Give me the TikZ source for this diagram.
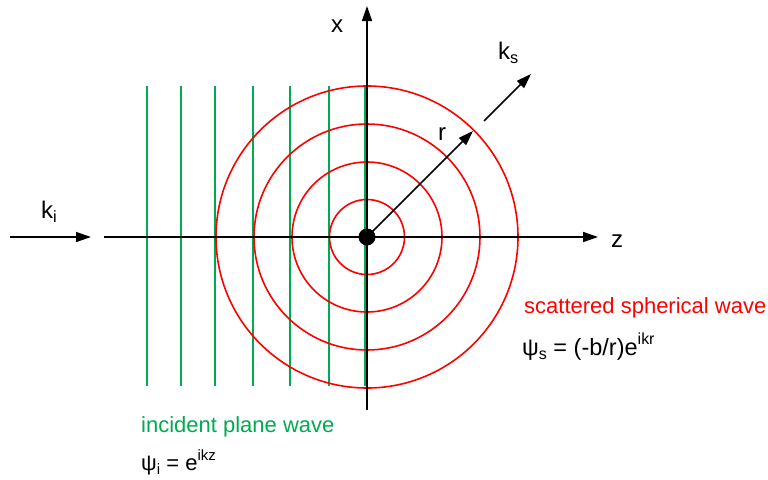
\documentclass[tikz,border=0pt]{standalone}
\usepackage{fontspec}
\setmainfont{Liberation Sans}
\usetikzlibrary{arrows.meta}
\newcommand\lsub[1]{\raisebox{-0.2em}{\scalebox{0.68}{#1}}}
\newcommand\lsup[1]{\raisebox{0.45em}{\scalebox{0.68}{#1}}}
\definecolor{wgreen}{RGB}{0,170,80}
\begin{document}
\begin{tikzpicture}[x=1pt,y=-1pt,
  axis/.style={line width=1.5pt, -{Triangle[length=15pt,width=10pt]}},
  lbl/.style={font=\fontsize{22}{26}\selectfont, inner sep=0pt},
  biglbl/.style={font=\fontsize{24}{28}\selectfont, inner sep=0pt},
  wave/.style={red, line width=1.6pt},
  plane/.style={wgreen, line width=1.8pt}]
\useasboundingbox (0,0) rectangle (768,479);
\coordinate (O) at (367,237);
% incident plane wave fronts
\foreach \gx/\n in {147/1,181/2,215/3,253/4,290/5,329/6,365/7}{
  \coordinate (g\n t) at (\gx,86);
  \coordinate (g\n b) at (\gx,386);
  \draw[plane] (g\n t) -- (g\n b);
}
% scattered spherical wave fronts
\foreach \r in {37.5,75,113,151}{
  \draw[wave] (O) circle[radius=\r pt];
}
% axes
\coordinate (xbot) at (367,410);
\coordinate (xtop) at (367,6);
\draw[axis] (xbot) -- (xtop);
\coordinate (zleft) at (104,237);
\coordinate (zright) at (598,237);
\draw[axis] (zleft) -- (zright);
% incident wave vector
\coordinate (kia) at (10,237);
\coordinate (kib) at (91,237);
\draw[axis] (kia) -- (kib);
% r vector
\coordinate (rtip) at (473,131);
\draw[axis] (O) -- (rtip);
% scattered wave vector
\coordinate (ksa) at (484,121);
\coordinate (ksb) at (531,74);
\draw[axis] (ksa) -- (ksb);
% scatterer
\node[circle, fill=black, minimum size=17pt, inner sep=0pt] (dot) at (O) {};
% labels
\node[biglbl, anchor=base] (xlab) at (337,32) {x};
\node[biglbl, anchor=base west] (zlab) at (611,247) {z};
\node[biglbl, anchor=base west] (kilab) at (41,218) {k\lsub{i}};
\node[biglbl, anchor=base west] (kslab) at (498,59) {k\lsub{s}};
\node[biglbl, anchor=base] (rlab) at (442,140) {r};
\node[lbl, anchor=base west, text=red] (scat) at (524,313) {scattered spherical wave};
\node[lbl, anchor=base west, font=\fontsize{23.5}{28}\selectfont] (psis) at (522,355) {ψ\lsub{s} = (-b/r)e\lsup{ikr}};
\node[lbl, anchor=base west, text=wgreen] (inc) at (141,432) {incident plane wave};
\node[lbl, anchor=base west] (psii) at (141,470) {ψ\lsub{i} = e\lsup{ikz}};
\end{tikzpicture}
\end{document}
